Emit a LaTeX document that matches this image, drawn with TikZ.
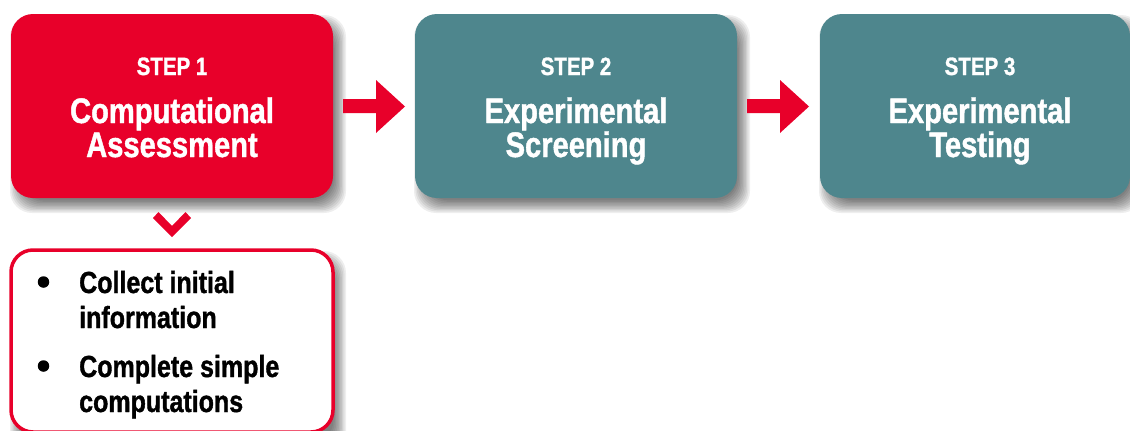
\documentclass[tikz,border=0pt]{standalone}
\usepackage{fontspec}
\setmainfont[FakeStretch=0.82, BoldFeatures={FakeBold=1.2}]{Liberation Sans}
\definecolor{stepred}{RGB}{232,0,42}
\definecolor{stepteal}{RGB}{78,134,141}
\newcommand{\mysoftshadow}[5]{%
  \foreach \k in {0,...,9}{%
    \pgfmathsetmacro{\e}{7-1.4*\k}%
    \fill[black, opacity=0.065, rounded corners=#5]
      ({#1+6-\e},{#2+8-\e}) rectangle ({#3+6+\e},{#4+8+\e});
  }%
}
\tikzset{
  stepbox/.style={rectangle, rounded corners=22pt, minimum height=184pt, inner sep=0pt},
  steplbl/.style={text=white, font=\bfseries\fontsize{25}{25}\selectfont, anchor=base, inner sep=0pt},
  steptitle/.style={text=white, font=\bfseries\fontsize{35.5}{34}\selectfont, anchor=base, inner sep=0pt},
  listtext/.style={font=\bfseries\fontsize{30.5}{30}\selectfont, anchor=base west, inner sep=0pt},
  bulletdot/.style={circle, fill=black, minimum size=11.5pt, inner sep=0pt},
  arrowshape/.style={fill=stepred},
}
\begin{document}
\begin{tikzpicture}[x=1pt,y=-1pt]
\useasboundingbox (0,0) rectangle (1130,431);
% shadows
\mysoftshadow{11}{14}{333}{198}{22pt}
\mysoftshadow{415}{14}{737}{198}{22pt}
\mysoftshadow{820}{14}{1130}{198}{22pt}
\mysoftshadow{11}{250}{333}{440}{22pt}
% boxes
\node[stepbox, fill=stepred, minimum width=322pt] (b1) at (172,106) {};
\node[stepbox, fill=stepteal, minimum width=322pt] (b2) at (576,106) {};
\node[stepbox, fill=stepteal, minimum width=310pt] (b3) at (975,106) {};
% box texts
\node[steplbl] (s1) at (172,75) {STEP 1};
\node[steptitle] (s1a) at (172,123) {Computational};
\node[steptitle] (s1b) at (172,157) {Assessment};
\node[steplbl] (s2) at (576,75) {STEP 2};
\node[steptitle] (s2a) at (576,123) {Experimental};
\node[steptitle] (s2b) at (576,157) {Screening};
\node[steplbl] (s3) at (980,75) {STEP 3};
\node[steptitle] (s3a) at (980,123) {Experimental};
\node[steptitle] (s3b) at (980,157) {Testing};
% arrows between boxes
\path[arrowshape] (343,99) -- (376,99) -- (376,80) -- (405,106.5) -- (376,133) -- (376,113) -- (343,113) -- cycle;
\path[arrowshape] (747,99) -- (780,99) -- (780,80) -- (809,106.5) -- (780,133) -- (780,113) -- (747,113) -- cycle;
% chevron
\path[arrowshape] (153,218) -- (158.5,212) -- (172,226) -- (185.5,212) -- (191,218) -- (172,237) -- cycle;
% detail box
\draw[stepred, line width=3.5pt, fill=white, rounded corners=22pt] (11,250) rectangle (333,432);
\node[bulletdot] (bu1) at (43.5,282) {};
\node[listtext] (t1) at (79,293) {Collect initial};
\node[listtext] (t2) at (79,328) {information};
\node[bulletdot] (bu2) at (43.5,366) {};
\node[listtext] (t3) at (79,377) {Complete simple};
\node[listtext] (t4) at (79,412) {computations};
\end{tikzpicture}
\end{document}
